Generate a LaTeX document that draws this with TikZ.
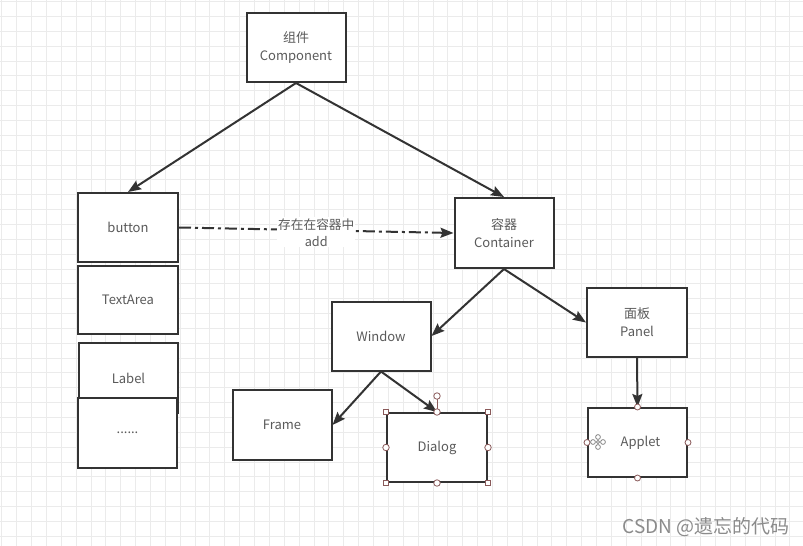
\documentclass[tikz,border=0pt]{standalone}
\usepackage{fontspec}
\setmainfont{Noto Sans CJK SC}
\usetikzlibrary{arrows.meta}
\definecolor{gridc}{HTML}{EBEBEB}
\definecolor{boxc}{HTML}{333333}
\definecolor{txtc}{HTML}{5A5A5A}
\definecolor{handc}{HTML}{8A5A5A}
\tikzset{
  box/.style={draw=boxc, line width=2pt, fill=white, minimum width=99pt, minimum height=69pt, inner sep=0pt, align=center, text=txtc, font=\fontsize{13}{18}\selectfont},
  conn/.style={draw=boxc, line width=2pt, -{Stealth[length=13pt,width=10pt,inset=2pt]}},
  dashconn/.style={draw=boxc, line width=2pt, dash pattern=on 12pt off 4pt on 3pt off 4pt, -{Stealth[length=13pt,width=10pt,inset=2pt]}},
  sqh/.style={draw=handc, line width=0.8pt, fill=white, minimum size=5pt, inner sep=0pt, rectangle},
  circh/.style={draw=handc, line width=0.8pt, fill=white, minimum size=6.5pt, inner sep=0pt, circle},
}
\begin{document}
\begin{tikzpicture}[x=1pt,y=-1pt]
\useasboundingbox (0,0) rectangle (803,546);
\fill[white] (0,0) rectangle (803,546);
% grid
\foreach \i in {0,...,54} {
  \draw[gridc, line width=1pt] ({1.8+14.87*\i},0) -- ({1.8+14.87*\i},546);
}
\foreach \j in {0,...,37} {
  \draw[gridc, line width=1pt] (0,{1.7+14.85*\j}) -- (803,{1.7+14.85*\j});
}
% boxes
\node[box] (comp) at (296,47.5) {组件\\[0pt]Component};
\node[box, minimum width=100pt] (button) at (128,227.5) {button};
\node[box, minimum width=100pt, minimum height=68pt] (textarea) at (128,300) {TextArea};
\node[box, minimum height=70pt] (label) at (128.5,378) {Label};
\node[box, minimum height=70pt] (dots) at (127.5,433) {......};
\node[box, minimum height=70pt] (container) at (504,233) {容器\\[0pt]Container};
\node[box] (window) at (381,336) {Window};
\node[box, minimum width=100pt] (panel) at (637,322.5) {面板\\[0pt]Panel};
\node[box, minimum height=70pt] (frame) at (282,425) {Frame};
\node[box, minimum width=100pt] (dialog) at (437,447.5) {Dialog};
\node[box] (applet) at (637.5,442.5) {\hspace*{6pt}Applet};
% connectors
\draw[conn] (comp.south) -- (button.north);
\draw[conn] (comp.south) -- (container.north);
\draw[dashconn] (button.east) -- (container.west)
  node[pos=0.5, fill=white, inner sep=1pt, align=center, text=txtc, font=\fontsize{12.7}{17}\selectfont, yshift=-2pt] (addlbl) {存在在容器中\\add};
\draw[conn] (container.south) -- (window.east);
\draw[conn] (container.south) -- (panel.west);
\draw[conn] (window.south) -- (frame.east);
\draw[conn] (window.south) -- (dialog.north);
\draw[conn] (panel.south) -- (applet.north);
% dialog selection handles
\coordinate (rot) at (437,396);
\draw[handc, line width=0.8pt] (rot) -- (dialog.north);
\node[circh] (rh) at (rot) {};
\foreach \a in {north west, north east, south west, south east} {
  \node[sqh] at (dialog.\a) {};
}
\foreach \a in {north, south, east, west} {
  \node[circh] at (dialog.\a) {};
}
% applet handles
\foreach \a in {north, south, east, west} {
  \node[circh, minimum size=6pt] at (applet.\a) {};
}
% move icon
\begin{scope}[shift={(598,442)}]
  \foreach \dx/\dy in {0/-5, 0/5, -5/0, 5/0} {
    \draw[txtc!80, line width=0.7pt] (\dx,\dy) circle (2.4pt);
  }
  \draw[txtc!80, line width=0.7pt] (0,0) circle (1.6pt);
\end{scope}
% watermark
\node[text=txtc!70, font=\fontsize{19}{22}\selectfont, anchor=east, inner sep=0pt] (wm) at (790,527) {CSDN @遗忘的代码};
\end{tikzpicture}
\end{document}
